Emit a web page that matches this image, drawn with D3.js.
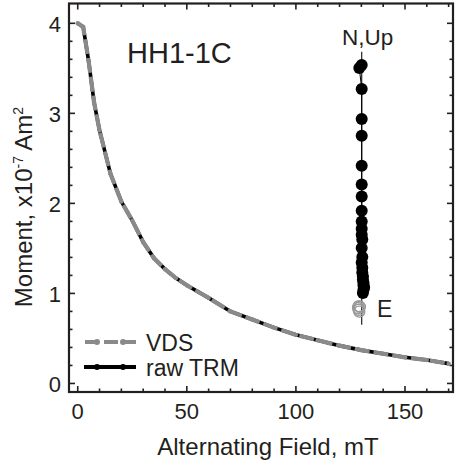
<!DOCTYPE html>
<html><head><meta charset="utf-8">
<script src="https://cdn.jsdelivr.net/npm/d3@7"></script>
<style>body{margin:0;background:#fff}svg{display:block}text{font-family:"Liberation Sans",Arial,sans-serif;fill:#231f20}</style>
</head><body><svg id="c" width="458" height="475"></svg>
<script>
// AF demagnetization steps (mT) and moments (x10^-7 Am^2)
const fields = [0, 2.5, 5, 7.5, 10, 15, 20, 25, 30, 35, 40, 45, 50, 60, 70, 80, 90, 100, 110, 120, 130, 140, 150, 160, 170];
const rawTRM = [4.00, 3.96, 3.58, 3.12, 2.81, 2.33, 2.02, 1.81, 1.57, 1.39, 1.27, 1.17, 1.09, 0.95, 0.80, 0.71, 0.62, 0.54, 0.48, 0.42, 0.37, 0.33, 0.29, 0.26, 0.22];
const vds    = [4.00, 3.96, 3.58, 3.12, 2.81, 2.33, 2.02, 1.81, 1.57, 1.39, 1.27, 1.17, 1.09, 0.95, 0.80, 0.71, 0.62, 0.54, 0.48, 0.42, 0.37, 0.33, 0.29, 0.26, 0.22];
// Zijderveld inset: E component and N/Up component
const zijE  = [0.00, -0.04, 0.00, 0.00, 0.00, 0.00, 0.00, 0.00, 0.00, 0.00, 0.00, 0.00, 0.01, 0.00, 0.01, 0.00, 0.01, 0.01, 0.02, 0.02, 0.03, 0.03, 0.04, 0.03, 0.02];
const zijN  = [4.00, 3.95, 3.60, 3.10, 2.82, 2.32, 2.01, 1.81, 1.57, 1.39, 1.27, 1.17, 1.09, 0.95, 0.80, 0.71, 0.62, 0.54, 0.48, 0.42, 0.37, 0.33, 0.29, 0.26, 0.20];
const zijOpenE = [-0.05, -0.06, -0.05, -0.04, -0.03];
const zijOpenU = [-0.02, -0.05, -0.08, -0.11, -0.03];
const xTicks = [0, 50, 100, 150];
const yTicks = [0, 1, 2, 3, 4];
const legendNames = ["VDS", "raw TRM"];

const svg = d3.select("#c");
const L = 69, R = 453, T = 3.5, B = 392;
const x = d3.scaleLinear().domain([-4, 172]).range([L, R]);
const y = d3.scaleLinear().domain([-0.095, 4.22]).range([B, T]);
const ink = "#231f20";

// ticks (inward, all four sides)
const g = svg.append("g");
d3.range(0, 171, 10).forEach(v => {
  const len = v % 50 === 0 ? 6 : 3.5;
  g.append("line").attr("x1", x(v)).attr("x2", x(v)).attr("y1", B).attr("y2", B - len).attr("stroke", ink).attr("stroke-width", 1.6);
  g.append("line").attr("x1", x(v)).attr("x2", x(v)).attr("y1", T).attr("y2", T + len).attr("stroke", ink).attr("stroke-width", 1.6);
});
d3.range(0, 42, 2).map(v => v / 10).forEach(v => {
  const len = Math.abs(v - Math.round(v)) < 1e-6 ? 6 : 3.5;
  g.append("line").attr("y1", y(v)).attr("y2", y(v)).attr("x1", L).attr("x2", L + len).attr("stroke", ink).attr("stroke-width", 1.6);
  g.append("line").attr("y1", y(v)).attr("y2", y(v)).attr("x1", R).attr("x2", R - len).attr("stroke", ink).attr("stroke-width", 1.6);
});
svg.append("rect").attr("x", L).attr("y", T).attr("width", R - L).attr("height", B - T)
  .attr("fill", "none").attr("stroke", ink).attr("stroke-width", 2.2);

// tick labels
xTicks.forEach(v => svg.append("text").attr("x", x(v)).attr("y", B + 27).attr("text-anchor", "middle").attr("font-size", 22).text(v));
yTicks.forEach(v => svg.append("text").attr("x", L - 8).attr("y", y(v) + 8.5).attr("text-anchor", "end").attr("font-size", 22).text(v));

// axis titles
svg.append("text").attr("x", 268).attr("y", 455).attr("text-anchor", "middle").attr("font-size", 24).text("Alternating Field, mT");
const yt = svg.append("text").attr("transform", "translate(31.5,207) rotate(-90)").attr("text-anchor", "middle").attr("font-size", 24);
yt.append("tspan").text("Moment,  x10");
yt.append("tspan").attr("dy", -9).attr("font-size", 14).text("-7");
yt.append("tspan").attr("dy", 9).text(" Am");
yt.append("tspan").attr("dy", -9).attr("font-size", 14).text("2");

// curves
const line = d3.line().x(d => x(d[0])).y(d => y(d[1]));
const rawPts = fields.map((f, i) => [f, rawTRM[i]]);
const vdsPts = fields.map((f, i) => [f, vds[i]]);
svg.append("path").attr("d", line(rawPts)).attr("fill", "none").attr("stroke", "#000").attr("stroke-width", 3.6);
svg.append("path").attr("d", line(vdsPts)).attr("fill", "none").attr("stroke", "#8a8a8a").attr("stroke-width", 4.2).attr("stroke-dasharray", "15,4");
svg.selectAll(".vd").data(vdsPts).enter().append("circle").attr("cx", d => x(d[0])).attr("cy", d => y(d[1])).attr("r", 2.2).attr("fill", "#8a8a8a");

// legend
const lg = [{y: 342, c: "#8a8a8a", dash: "14,5"}, {y: 367, c: "#000", dash: null}];
lg.forEach((l, i) => {
  const p = svg.append("line").attr("x1", 84).attr("x2", 136).attr("y1", l.y).attr("y2", l.y).attr("stroke", l.c).attr("stroke-width", 4);
  if (l.dash) p.attr("stroke-dasharray", l.dash).attr("stroke-dashoffset", -1);
  [97, 123].forEach(cx => svg.append("circle").attr("cx", cx).attr("cy", l.y).attr("r", 3).attr("fill", l.c));
  svg.append("text").attr("x", 146).attr("y", l.y + 8.5).attr("font-size", 23).text(legendNames[i]);
});

// sample label
svg.append("text").attr("x", 127).attr("y", 63).attr("font-size", 29).text("HH1-1C");

// Zijderveld inset
const zx = d3.scaleLinear().domain([-0.5, 0.5]).range([331.7, 391.7]);
const zy = d3.scaleLinear().domain([0, 4]).range([305, 65]);
svg.append("line").attr("x1", zx(0)).attr("x2", zx(0)).attr("y1", zy(4.22)).attr("y2", zy(-0.33)).attr("stroke", ink).attr("stroke-width", 1.2);
svg.selectAll(".zo").data(zijOpenE).enter().append("circle")
  .attr("cx", (d, i) => zx(d)).attr("cy", (d, i) => zy(zijOpenU[i])).attr("r", 5.5)
  .attr("fill", "none").attr("stroke", "#9a9a9a").attr("stroke-width", 1.4);
const zl = d3.line().x((d) => zx(d[0])).y(d => zy(d[1]));
const zPts = zijE.map((e, i) => [e, zijN[i]]);
svg.append("path").attr("d", zl(zPts)).attr("fill", "none").attr("stroke", "#000").attr("stroke-width", 1);
svg.selectAll(".zf").data(zPts).enter().append("circle").attr("cx", d => zx(d[0])).attr("cy", d => zy(d[1])).attr("r", 6).attr("fill", "#000");
svg.append("text").attr("x", zx(0) + 6).attr("y", 45).attr("text-anchor", "middle").attr("font-size", 22.5).text("N,Up");
svg.append("text").attr("x", 377).attr("y", 316.5).attr("font-size", 23).text("E");
</script></body></html>
